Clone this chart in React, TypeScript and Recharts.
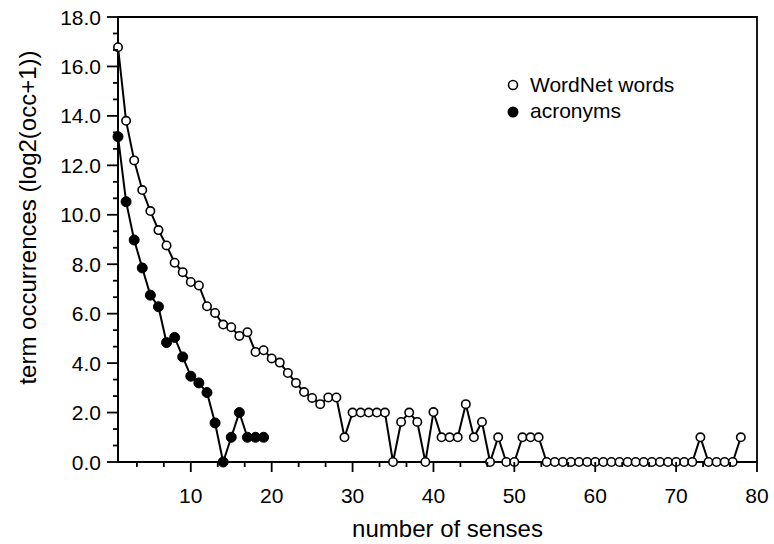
import React from 'react';
import { LineChart, Line, XAxis, YAxis, ReferenceArea, Legend } from 'recharts';

// Number of senses per term (x) and log2(occurrences + 1) per group (y)
const senseCounts = [
  1, 2, 3, 4, 5, 6, 7, 8, 9, 10, 11, 12, 13, 14, 15, 16, 17, 18, 19, 20,
  21, 22, 23, 24, 25, 26, 27, 28, 29, 30, 31, 32, 33, 34, 35, 36, 37, 38, 39, 40,
  41, 42, 43, 44, 45, 46, 47, 48, 49, 50, 51, 52, 53, 54, 55, 56, 57, 58, 59, 60,
  61, 62, 63, 64, 65, 66, 67, 68, 69, 70, 71, 72, 73, 74, 75, 76, 77, 78,
];

const wordnetWords = [
  16.78, 13.8, 12.2, 11.0, 10.15, 9.38, 8.76, 8.06, 7.68, 7.28,
  7.14, 6.3, 6.03, 5.56, 5.45, 5.1, 5.25, 4.45, 4.52, 4.19,
  4.02, 3.6, 3.2, 2.83, 2.59, 2.34, 2.61, 2.61, 1.0, 2.0,
  2.0, 2.0, 2.0, 2.0, 0, 1.62, 2.0, 1.62, 0, 2.02,
  1.0, 1.0, 1.0, 2.34, 1.0, 1.62, 0, 1.0, 0, 0,
  1.0, 1.0, 1.0, 0, 0, 0, 0, 0, 0, 0,
  0, 0, 0, 0, 0, 0, 0, 0, 0, 0,
  0, 0, 1.0, 0, 0, 0, 0, 1.0,
];

const acronyms = [
  13.16, 10.53, 8.98, 7.85, 6.75, 6.28, 4.83, 5.04, 4.25, 3.47,
  3.2, 2.81, 1.58, 0, 1.0, 2.0, 1.0, 1.0, 1.0,
];

const seriesNames = ['WordNet words', 'acronyms'];
const xTitle = 'number of senses';
const yTitle = 'term occurrences (log2(occ+1))';

const xMajorTicks = [10, 20, 30, 40, 50, 60, 70, 80];
const yMajorTicks = [0, 2, 4, 6, 8, 10, 12, 14, 16, 18];

// Major ticks plus two minor subdivisions between each pair
const xTicks = Array.from({ length: 24 }, (_, k) => ((k + 1) * 10) / 3);
const yTicks = Array.from({ length: 28 }, (_, k) => (k * 2) / 3);

const data = senseCounts.map((n, i) => ({
  senses: n,
  wordnet: wordnetWords[i],
  acronyms: i < acronyms.length ? acronyms[i] : null,
}));

const FONT = '"Liberation Sans", Arial, Helvetica, sans-serif';
const INK = '#000';
const AXIS_W = 1.8;

const isMajor = (v: number, list: number[]) => list.some((m) => Math.abs(m - v) < 1e-6);

const XTick = (props: any) => {
  const { x, y, payload } = props;
  const major = isMajor(payload.value, xMajorTicks);
  return (
    <g>
      <line x1={x} y1={y} x2={x} y2={y + (major ? 10 : 5)} stroke={INK} strokeWidth={AXIS_W} />
      {major && (
        <text x={x} y={y + 41} textAnchor="middle" fontSize={21} fontFamily={FONT} fill={INK}>
          {payload.value}
        </text>
      )}
    </g>
  );
};

const YTick = (props: any) => {
  const { x, y, payload } = props;
  const major = isMajor(payload.value, yMajorTicks);
  return (
    <g>
      <line x1={x - (major ? 11 : 5)} y1={y} x2={x} y2={y} stroke={INK} strokeWidth={AXIS_W} />
      {major && (
        <text x={x - 17} y={y} dy="0.36em" textAnchor="end" fontSize={21} fontFamily={FONT} fill={INK}>
          {Number(payload.value).toFixed(1)}
        </text>
      )}
    </g>
  );
};

const LegendBox = () => (
  <svg width={200} height={60} style={{ overflow: 'visible', display: 'block' }}>
    <circle cx={13} cy={17} r={4.5} fill="#fff" stroke={INK} strokeWidth={1.6} />
    <text x={30} y={24} fontSize={21} fontFamily={FONT} fill={INK}>
      {seriesNames[0]}
    </text>
    <circle cx={13} cy={44} r={5.5} fill={INK} />
    <text x={30} y={50} fontSize={21} fontFamily={FONT} fill={INK}>
      {seriesNames[1]}
    </text>
  </svg>
);

export default function App() {
  return (
    <div style={{ position: 'absolute', left: 0, top: 0, background: '#fff' }}>
      <LineChart
        width={774}
        height={544}
        data={data}
        margin={{ top: 17, right: 17, bottom: 0, left: 0 }}
      >
        <XAxis
          dataKey="senses"
          type="number"
          domain={[1, 80]}
          ticks={xTicks}
          interval={0}
          tickSize={0}
          tickMargin={0}
          tickLine={false}
          tick={<XTick />}
          height={82}
          axisLine={{ stroke: INK, strokeWidth: AXIS_W }}
          label={({ viewBox }: any) => (
            <text
              x={viewBox.x + viewBox.width / 2 + 10}
              y={viewBox.y + 75}
              textAnchor="middle"
              fontSize={24}
              fontFamily={FONT}
              fill={INK}
            >
              {xTitle}
            </text>
          )}
        />
        <YAxis
          type="number"
          domain={[0, 18]}
          ticks={yTicks}
          interval={0}
          tickSize={0}
          tickMargin={0}
          tickLine={false}
          tick={<YTick />}
          width={118}
          axisLine={{ stroke: INK, strokeWidth: AXIS_W }}
          label={({ viewBox }: any) => {
            const cx = 27;
            const cy = viewBox.y + viewBox.height / 2 - 22;
            return (
              <text
                x={cx}
                y={cy}
                transform={`rotate(-90, ${cx}, ${cy})`}
                textAnchor="middle"
                dominantBaseline="central"
                fontSize={24}
                fontFamily={FONT}
                fill={INK}
              >
                {yTitle}
              </text>
            );
          }}
        />
        <ReferenceArea
          x1={1}
          x2={80}
          y1={0}
          y2={18}
          fill="none"
          stroke={INK}
          strokeWidth={AXIS_W}
          ifOverflow="visible"
        />
        <Legend
          layout="horizontal"
          verticalAlign="middle"
          align="center"
          content={<LegendBox />}
          wrapperStyle={{ left: 500, top: 68, width: 200, height: 60 }}
        />
        <Line
          dataKey="wordnet"
          name={seriesNames[0]}
          stroke={INK}
          strokeWidth={2}
          dot={{ r: 4.2, fill: '#fff', stroke: INK, strokeWidth: 1.6 }}
          isAnimationActive={false}
        />
        <Line
          dataKey="acronyms"
          name={seriesNames[1]}
          stroke={INK}
          strokeWidth={2}
          dot={{ r: 5, fill: INK, stroke: INK, strokeWidth: 1 }}
          isAnimationActive={false}
        />
      </LineChart>
    </div>
  );
}
